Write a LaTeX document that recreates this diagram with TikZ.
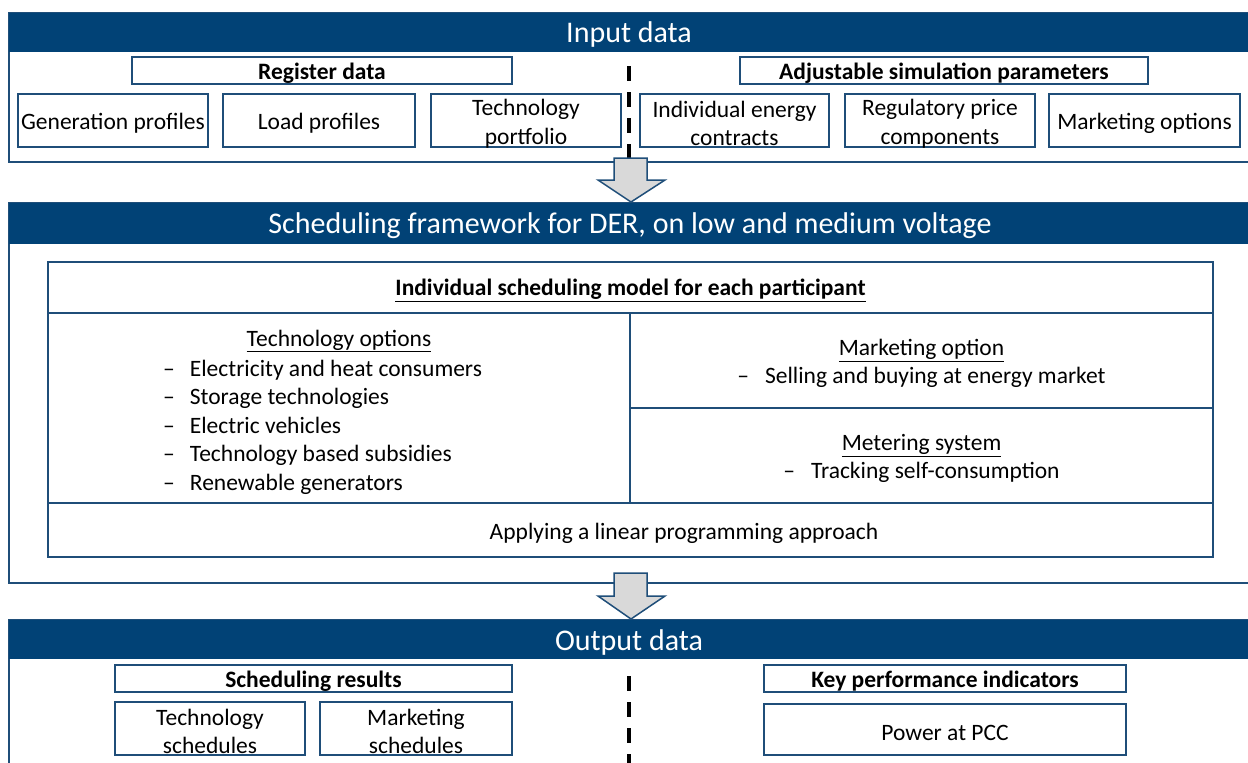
\documentclass[tikz,border=0pt]{standalone}
\usepackage{fontspec}
\setmainfont{Carlito}
\usetikzlibrary{fit,positioning}

\definecolor{bandblue}{RGB}{1,66,118}
\definecolor{edgeblue}{RGB}{31,78,121}
\definecolor{arrowgray}{RGB}{217,217,217}

\tikzset{
  txt/.style={font=\fontsize{23.5}{28.5}\selectfont, align=center, inner sep=0pt, yshift=-3pt},
  boldtxt/.style={txt, font=\fontsize{23.5}{28.5}\selectfont\bfseries},
  hdrtxt/.style={inner sep=0pt, text=white, font=\fontsize{30}{36}\selectfont, yshift=-3pt},
  hdr/.style={fill=bandblue, draw=bandblue, inner sep=0pt},
  panel/.style={draw=edgeblue, line width=1.5pt, inner sep=0pt},
  box/.style={panel, fill=white},
  divider/.style={line width=4pt, dash pattern=on 15pt off 11pt},
  blockarrow/.style={draw=edgeblue, line width=1.5pt, fill=arrowgray, line join=miter}
}

\begin{document}
\begin{tikzpicture}[x=1pt,y=-1pt]
    \useasboundingbox (0,0) rectangle (1248,763);
    \clip (0,0) rectangle (1248,763);

    % input data
    \node[panel, fit={(9,13) (1249,162)}] (inframe) {};
    \node[hdr, fit={(9,13) (1249,51)}] (inband) {};
    \node[hdrtxt] (inbandt) at (inband) {Input data};
    \begin{scope}[every node/.style={box}]
        \node[fit={(132,57) (512,84)}] (reg) {};
        \node[fit={(740,57) (1148,84)}] (adj) {};
        \node[fit={(18,94) (208,147)}] (gen) {};
        \node[fit={(223,94) (415,147)}] (load) {};
        \node[fit={(431,94) (621,147)}] (tech) {};
        \node[fit={(640,94) (829,147)}] (contr) {};
        \node[fit={(845,94) (1035,147)}] (price) {};
        \node[fit={(1049,94) (1240,147)}] (mkt) {};
    \end{scope}
    \node[boldtxt] (regt) at (reg) {Register data};
    \node[boldtxt] (adjt) at (adj) {Adjustable simulation parameters};
    \node[txt] (gent) at (gen) {Generation profiles};
    \node[txt] (loadt) at (load) {Load profiles};
    \node[txt] (techt) at (tech) {Technology\\portfolio};
    \node[txt] (contrt) at (contr) {Individual energy\\contracts};
    \node[txt] (pricet) at (price) {Regulatory price\\components};
    \node[txt] (mktt) at (mkt) {Marketing options};
    \coordinate (d1) at (629,66);
    \coordinate (d2) at (629,158);
    \draw[divider] (d1) -- (d2);

    % scheduling framework
    \node[panel, fit={(9,203) (1249,583)}] (schedframe) {};
    \node[hdr, fit={(9,203) (1249,243)}] (schedband) {};
    \node[hdrtxt] (schedbandt) at (630,223)
        {Scheduling framework for DER, on low and medium voltage};
    \begin{scope}[every node/.style={box}]
        \node[fit={(48,262) (1213,313)}] (title) {};
        \node[fit={(48,313) (630,503)}] (left) {};
        \node[fit={(630,313) (1213,408)}] (rtop) {};
        \node[fit={(630,408) (1213,503)}] (rbot) {};
        \node[fit={(48,503) (1213,557)}] (bottom) {};
    \end{scope}
    \node[boldtxt] (titlet) at (title)
        {\underline{Individual scheduling model for each participant}};
    \node[txt] (techopt) at (339,338) {\underline{Technology options}};
    \node[txt, align=left, anchor=west] (techlist) at (163,424)
        {--\hspace{15pt}Electricity and heat consumers\\
         --\hspace{15pt}Storage technologies\\
         --\hspace{15pt}Electric vehicles\\
         --\hspace{15pt}Technology based subsidies\\
         --\hspace{15pt}Renewable generators};
    \node[txt] (mktopt) at (rtop)
        {\underline{Marketing option}\\--\hspace{16pt}Selling and buying at energy market};
    \node[txt] (meter) at (rbot)
        {\underline{Metering system}\\--\hspace{16pt}Tracking self-consumption};
    \node[txt] (lp) at (684,530) {Applying a linear programming approach};

    % output data
    \node[panel, fit={(9,620) (1249,780)}] (outframe) {};
    \node[hdr, fit={(9,620) (1249,658)}] (outband) {};
    \node[hdrtxt] (outbandt) at (outband) {Output data};
    \begin{scope}[every node/.style={box}]
        \node[fit={(115,665) (512,692)}] (res) {};
        \node[fit={(764,665) (1126,692)}] (kpi) {};
        \node[fit={(115,702) (305,755)}] (techsch) {};
        \node[fit={(320,702) (512,755)}] (mktsch) {};
        \node[fit={(764,704) (1126,755)}] (pcc) {};
    \end{scope}
    \node[boldtxt] (rest) at (res) {Scheduling results};
    \node[boldtxt] (kpit) at (kpi) {Key performance indicators};
    \node[txt] (techscht) at (techsch) {Technology\\schedules};
    \node[txt] (mktscht) at (mktsch) {Marketing\\schedules};
    \node[txt] (pcct) at (pcc) {Power at PCC};
    \coordinate (d3) at (629,676);
    \coordinate (d4) at (629,770);
    \draw[divider] (d3) -- (d4);

    % arrows between the stages
    \draw[blockarrow] (614,158) -- (647,158) -- (647,180) -- (665,180) -- (631,202)
        -- (598,180) -- (614,180) -- cycle;
    \draw[blockarrow] (614,573) -- (647,573) -- (647,596) -- (665,596) -- (631,619)
        -- (598,596) -- (614,596) -- cycle;
\end{tikzpicture}
\end{document}
